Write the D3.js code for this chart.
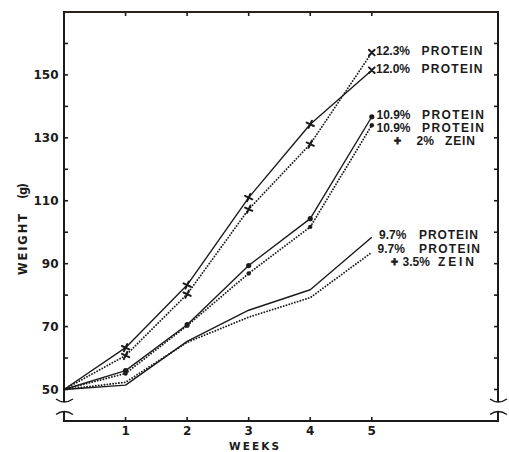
<!DOCTYPE html>
<html>
<head>
<meta charset="utf-8">
<script src="https://cdn.jsdelivr.net/npm/d3@7"></script>
<style>
  html, body { margin: 0; padding: 0; background: #fff; }
  svg { display: block; }
</style>
</head>
<body>
<svg id="chart" width="509" height="452"></svg>
<script>
// ---- Data ----
const weeks = [0, 1, 2, 3, 4, 5];
const protein123 = [50, 60.8, 80.3, 107.3, 128.0, 157.1];   // dotted, x markers
const protein120 = [50, 63.3, 83.2, 111.0, 134.3, 151.5];   // solid, x markers
const protein109 = [50, 56.0, 70.6, 89.4, 104.3, 136.7];    // solid, dots
const protein109Zein = [50, 55.1, 70.3, 86.9, 101.7, 134.0];// dotted, dots
const protein97 = [50, 51.4, 65.3, 75.2, 81.7, 98.4];       // solid
const protein97Zein = [50, 52.3, 65.0, 73.0, 79.2, 93.6];   // dotted
const yTickLabels = [50, 70, 90, 110, 130, 150];
const yMinorTicks = [50, 60, 70, 80, 90, 100, 110, 120, 130, 140, 150, 160];
const xTickLabels = [1, 2, 3, 4, 5];
const seriesLabels = ["12.3% PROTEIN", "12.0% PROTEIN", "10.9% PROTEIN", "10.9% PROTEIN", "+ 2% ZEIN",
                      "9.7% PROTEIN", "9.7% PROTEIN", "+ 3.5% ZEIN"];

(function () {
const svg = d3.select("#chart");
const ink = "#1b1b1b";
const x = d3.scaleLinear().domain([0, 7.05]).range([64, 498]);
const y = d3.scaleLinear().domain([50, 170]).range([389.5, 12]);
const pLeft = x(0), pRight = x(7.05), pTop = y(170), pBottom = 421;
const breakTop = 402, breakBot = 411.5;

const g = svg.append("g");

g.append("line").attr("x1", pLeft - 1).attr("x2", pRight + 1).attr("y1", pTop).attr("y2", pTop)
  .attr("stroke", "#2a221c").attr("stroke-width", 2);
g.append("line").attr("x1", pLeft - 1).attr("x2", pRight + 1).attr("y1", pBottom).attr("y2", pBottom)
  .attr("stroke", ink).attr("stroke-width", 2);
[pLeft, pRight].forEach(xx => {
  g.append("line").attr("x1", xx).attr("x2", xx).attr("y1", pTop - 1).attr("y2", breakTop)
    .attr("stroke", ink).attr("stroke-width", 2);
  g.append("line").attr("x1", xx).attr("x2", xx).attr("y1", breakBot).attr("y2", pBottom + 1)
    .attr("stroke", ink).attr("stroke-width", 2);
  g.append("path").attr("d", `M${xx - 8},${breakTop - 3} Q${xx},${breakTop + 3} ${xx + 9},${breakTop - 3}`)
    .attr("fill", "none").attr("stroke", ink).attr("stroke-width", 1.5);
  g.append("path").attr("d", `M${xx - 8},${breakBot + 3} Q${xx},${breakBot - 3} ${xx + 9},${breakBot + 3}`)
    .attr("fill", "none").attr("stroke", ink).attr("stroke-width", 1.5);
});

yMinorTicks.forEach(v => {
  g.append("line").attr("x1", pLeft).attr("x2", pLeft + 4).attr("y1", y(v)).attr("y2", y(v))
    .attr("stroke", ink).attr("stroke-width", 1.6);
  g.append("line").attr("x1", pRight).attr("x2", pRight - 4).attr("y1", y(v)).attr("y2", y(v))
    .attr("stroke", ink).attr("stroke-width", 1.6);
});
xTickLabels.forEach(w => {
  g.append("line").attr("x1", x(w)).attr("x2", x(w)).attr("y1", pBottom).attr("y2", pBottom - 4)
    .attr("stroke", ink).attr("stroke-width", 1.6);
  g.append("line").attr("x1", x(w)).attr("x2", x(w)).attr("y1", pTop).attr("y2", pTop + 4)
    .attr("stroke", ink).attr("stroke-width", 1.6);
});

const tickFont = "'DejaVu Sans', sans-serif";
g.selectAll(".ylab").data(yTickLabels).enter().append("text")
  .attr("x", 58.5).attr("y", d => y(d) + 4.4)
  .attr("text-anchor", "end").attr("font-family", tickFont).attr("font-weight", "bold")
  .attr("font-size", 12).attr("fill", ink).text(d => d);
g.selectAll(".xlab").data(xTickLabels).enter().append("text")
  .attr("x", d => x(d)).attr("y", 435)
  .attr("text-anchor", "middle").attr("font-family", tickFont).attr("font-weight", "bold")
  .attr("font-size", 12).attr("fill", ink).text(d => d);
g.append("text").attr("x", 229).attr("y", 449.5).attr("textLength", 50).attr("lengthAdjust", "spacing")
  .attr("font-family", tickFont).attr("font-weight", "bold").attr("font-size", 10.5)
  .attr("fill", ink).text("WEEKS");
const yt = g.append("g").attr("transform", "translate(26.5,0) rotate(-90)");
yt.append("text").attr("x", -275).attr("y", 0).attr("textLength", 61).attr("lengthAdjust", "spacing")
  .attr("font-family", tickFont).attr("font-weight", "bold").attr("font-size", 11.5)
  .attr("fill", ink).text("WEIGHT");
yt.append("text").attr("x", -199).attr("y", 0).attr("textLength", 16).attr("lengthAdjust", "spacing")
  .attr("font-family", tickFont).attr("font-weight", "bold").attr("font-size", 11.5)
  .attr("fill", ink).text("(g)");

// ---- Series ----
const series = [
  { values: protein97, dotted: false, marker: null },
  { values: protein97Zein, dotted: true, marker: null },
  { values: protein109, dotted: false, marker: "dot" },
  { values: protein109Zein, dotted: true, marker: "dot" },
  { values: protein120, dotted: false, marker: "cross" },
  { values: protein123, dotted: true, marker: "cross" }
];
const line = d3.line().x((d, i) => x(weeks[i])).y(d => y(d));
series.forEach(s => {
  const p = g.append("path").datum(s.values).attr("d", line)
    .attr("fill", "none").attr("stroke", ink);
  if (s.dotted) {
    p.attr("stroke-width", 1.9).attr("stroke-dasharray", "0.01 2.9").attr("stroke-linecap", "round");
  } else {
    p.attr("stroke-width", 1.4).attr("stroke-linejoin", "round");
  }
  const pts = s.values.map((v, i) => ({ w: weeks[i], v })).filter(d => d.w > 0);
  if (s.marker === "dot") {
    g.selectAll(null).data(pts).enter().append("circle")
      .attr("cx", d => x(d.w)).attr("cy", d => y(d.v)).attr("r", s.dotted ? 2.2 : 2.6)
      .attr("fill", ink);
  } else if (s.marker === "cross") {
    const h = 4;
    g.selectAll(null).data(pts).enter().append("path")
      .attr("d", `M${-h},0L${h},0M0,${-h}L0,${h}`)
      .attr("transform", d => `translate(${x(d.w)},${y(d.v)}) rotate(${d.w === 5 ? 45 : 25})`)
      .attr("fill", "none").attr("stroke", ink).attr("stroke-width", 2).attr("stroke-linecap", "round");
  }
});

// ---- Series labels ----
const labelFont = "'Liberation Sans', Arial, sans-serif";
const labelRows = [
  { cy: 50.7, parts: [[376, null], [421.5, 61]] },
  { cy: 68.3, parts: [[376, null], [421.5, 61]] },
  { cy: 114.5, parts: [[376.5, null], [422, 62]] },
  { cy: 127.5, parts: [[376.5, null], [422, 62]] },
  { cy: 140.8, parts: [[394, null], [416.5, null], [445, 30]] },
  { cy: 235, parts: [[379, null], [419, 59]] },
  { cy: 248.3, parts: [[377.5, null], [419, 61]] },
  { cy: 261.7, parts: [[391, null], [402.5, null], [438, 36]] }
];
seriesLabels.forEach((txt, i) => {
  const words = txt.split(" ");
  const row = labelRows[i];
  words.forEach((wd, j) => {
    const t = g.append("text").attr("x", row.parts[j][0]).attr("y", row.cy + 4.3)
      .attr("font-family", labelFont).attr("font-weight", "bold")
      .attr("font-size", 12)
      .attr("fill", ink).text(wd);
    if (wd === "+") t.attr("stroke", ink).attr("stroke-width", 0.8);
    if (row.parts[j][1]) t.attr("textLength", row.parts[j][1]).attr("lengthAdjust", "spacing");
  });
});
})();
</script>
</body>
</html>
